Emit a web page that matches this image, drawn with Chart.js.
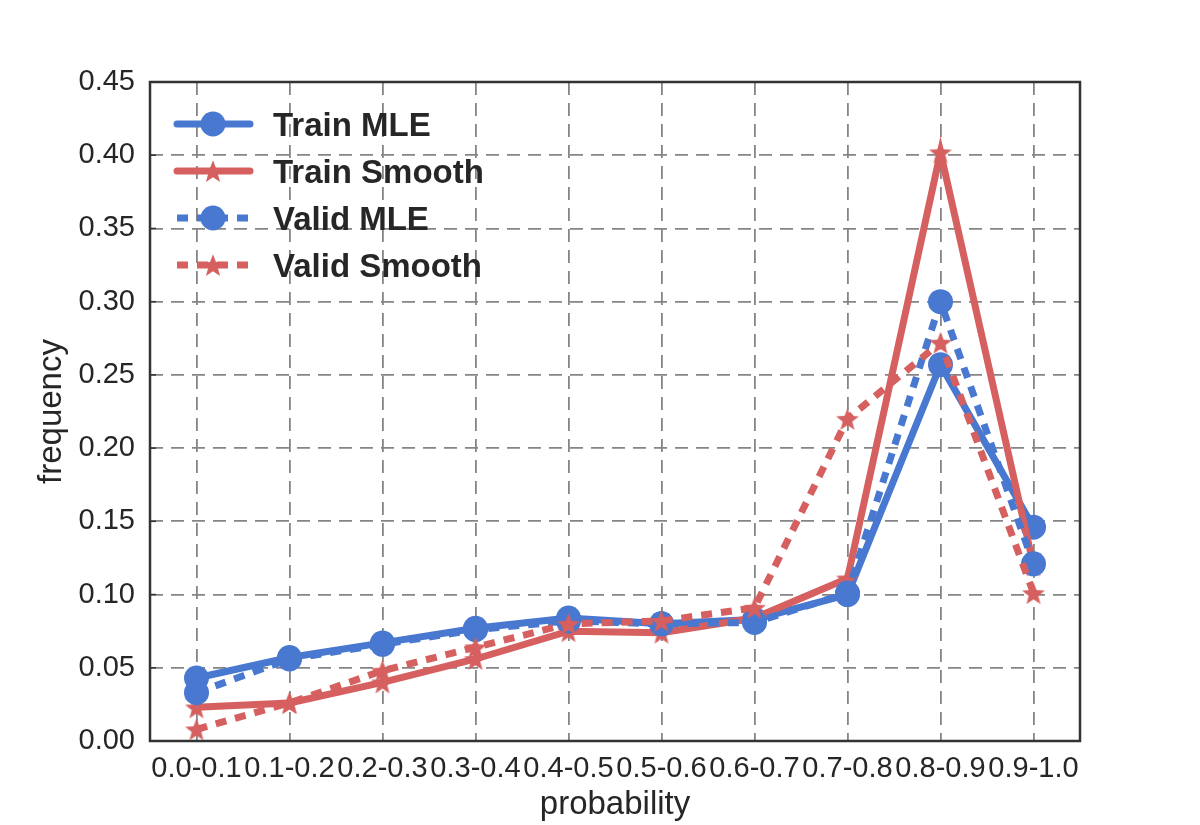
<!DOCTYPE html>
<html>
<head>
<meta charset="utf-8">
<script src="https://cdn.jsdelivr.net/npm/chart.js@4.4.1/dist/chart.umd.min.js"></script>
<style>
  body { margin: 0; background: #fff; }
  #wrap { width: 1200px; height: 825px; }
</style>
</head>
<body>
<div id="wrap"><canvas id="calibChart"></canvas></div>
<script>
// bins of predicted probability
const categories = ['0.0-0.1', '0.1-0.2', '0.2-0.3', '0.3-0.4', '0.4-0.5',
                    '0.5-0.6', '0.6-0.7', '0.7-0.8', '0.8-0.9', '0.9-1.0'];

// frequencies
const trainMle    = [0.043, 0.057, 0.067, 0.077, 0.084, 0.080, 0.083, 0.100, 0.257, 0.146];
const trainSmooth = [0.023, 0.026, 0.040, 0.056, 0.075, 0.074, 0.084, 0.111, 0.402, 0.120];
const validMle    = [0.033, 0.056, 0.066, 0.076, 0.082, 0.080, 0.081, 0.101, 0.300, 0.121];
const validSmooth = [0.008, 0.026, 0.048, 0.064, 0.080, 0.082, 0.091, 0.220, 0.272, 0.101];

const yMin = 0;
const yMax = 0.45;
const yStep = 0.05;

const colors = {
    blue: '#4878cf',
    red: '#d65f5f',
    text: '#262626',
    grid: '#858585',
    frame: '#333333'
};
const fontFamily = '"Liberation Sans", Arial, Helvetica, sans-serif';

// filled five point star, chart.js only has a stroked one
function makeStar(color, r) {
    const c = document.createElement('canvas');
    const size = Math.ceil(r * 2) + 2;
    c.width = size;
    c.height = size;
    const g = c.getContext('2d');
    const cx = size / 2, cy = size / 2 + r * 0.1;
    g.fillStyle = color;
    g.beginPath();
    for (let i = 0; i < 10; i++) {
        const rad = i % 2 === 0 ? r : r * 0.42;
        const a = -Math.PI / 2 + i * Math.PI / 5;
        const px = cx + rad * Math.cos(a);
        const py = cy + rad * Math.sin(a);
        if (i === 0) g.moveTo(px, py); else g.lineTo(px, py);
    }
    g.closePath();
    g.fill();
    return c;
}
const redStar = makeStar(colors.red, 12);

function series(label, data, color, dashed, marker, order) {
    return {
        label: label,
        data: data,
        borderColor: color,
        backgroundColor: color,
        borderWidth: 7,
        borderDash: dashed ? [11, 9] : [],
        borderCapStyle: dashed ? 'butt' : 'round',
        pointStyle: marker,
        pointRadius: 12.5,
        pointHoverRadius: 12.5,
        pointBorderWidth: 0,
        tension: 0,
        fill: false,
        order: order,
        dashed: dashed
    };
}

const datasets = [
    series('Train MLE', trainMle, colors.blue, false, 'circle', 4),
    series('Train Smooth', trainSmooth, colors.red, false, redStar, 3),
    series('Valid MLE', validMle, colors.blue, true, 'circle', 2),
    series('Valid Smooth', validSmooth, colors.red, true, redStar, 1)
];

const framePlugin = {
    id: 'frame',
    afterDatasetsDraw(chart) {
        const {ctx, chartArea: a, scales} = chart;
        ctx.save();
        ctx.setLineDash([]);
        ctx.strokeStyle = colors.frame;
        ctx.lineWidth = 1.5;
        scales.y.ticks.forEach(t => {
            const y = scales.y.getPixelForValue(t.value);
            ctx.beginPath();
            ctx.moveTo(a.left, y);
            ctx.lineTo(a.left + 6, y);
            ctx.stroke();
        });
        ctx.lineWidth = 2.5;
        ctx.strokeRect(a.left, a.top, a.right - a.left, a.bottom - a.top);
        ctx.restore();
    }
};

const legendPlugin = {
    id: 'lineLegend',
    afterDraw(chart) {
        const ctx = chart.ctx;
        const x0 = 177, x1 = 250, mx = 213, tx = 273;
        ctx.save();
        datasets.forEach((ds, i) => {
            const y = 124 + i * 47;
            ctx.strokeStyle = ds.borderColor;
            ctx.lineWidth = 7;
            ctx.lineCap = ds.dashed ? 'butt' : 'round';
            ctx.setLineDash(ds.dashed ? [11, 9] : []);
            ctx.beginPath();
            ctx.moveTo(x0, y);
            ctx.lineTo(x1, y);
            ctx.stroke();
            ctx.setLineDash([]);
            if (ds.pointStyle === 'circle') {
                ctx.fillStyle = ds.backgroundColor;
                ctx.beginPath();
                ctx.arc(mx, y, 12.5, 0, Math.PI * 2);
                ctx.fill();
            } else {
                const img = ds.pointStyle;
                ctx.drawImage(img, mx - img.width / 2, y - img.height / 2);
            }
            ctx.fillStyle = colors.text;
            ctx.font = 'bold 33px ' + fontFamily;
            ctx.textBaseline = 'alphabetic';
            ctx.textAlign = 'left';
            ctx.fillText(ds.label, tx, y + 12);
        });
        ctx.restore();
    }
};

new Chart(document.getElementById('calibChart'), {
    type: 'line',
    data: {
        labels: categories,
        datasets: datasets
    },
    options: {
        responsive: true,
        maintainAspectRatio: false,
        animation: false,
        events: [],
        layout: {
            padding: { top: 82, right: 120, bottom: 0, left: 0 }
        },
        plugins: {
            legend: { display: false },
            tooltip: { enabled: false }
        },
        scales: {
            x: {
                type: 'category',
                offset: true,
                grid: { color: colors.grid, lineWidth: 1.8, drawTicks: false, offset: false },
                border: { display: false, dash: [13, 8] },
                ticks: {
                    color: colors.text,
                    font: { size: 29, family: fontFamily },
                    padding: 11,
                    autoSkip: false,
                    maxRotation: 0,
                    minRotation: 0
                },
                title: {
                    display: true,
                    text: 'probability',
                    color: colors.text,
                    font: { size: 33, family: fontFamily },
                    padding: { top: 0, bottom: 0 }
                },
                afterFit(scale) { scale.height = 84; }
            },
            y: {
                min: yMin,
                max: yMax,
                grid: { color: colors.grid, lineWidth: 1.8, drawTicks: false },
                border: { display: false, dash: [13, 8] },
                ticks: {
                    stepSize: yStep,
                    color: colors.text,
                    font: { size: 29, family: fontFamily },
                    padding: 15,
                    callback: v => v.toFixed(2)
                },
                title: {
                    display: true,
                    text: 'frequency',
                    color: colors.text,
                    font: { size: 33, family: fontFamily },
                    padding: { top: 32, bottom: 0 }
                },
                afterFit(scale) { scale.width = 150; }
            }
        }
    },
    plugins: [framePlugin, legendPlugin]
});
</script>
</body>
</html>
